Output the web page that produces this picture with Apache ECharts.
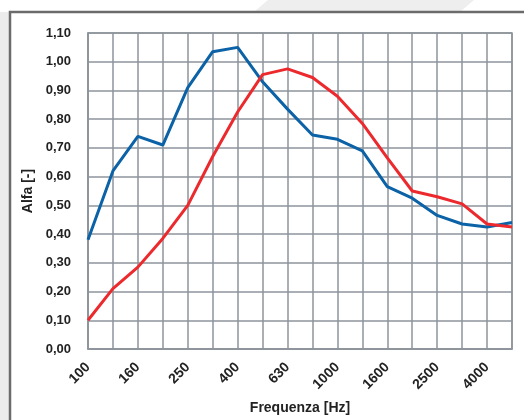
<!DOCTYPE html>
<html>
<head>
<meta charset="utf-8">
<script src="https://cdn.jsdelivr.net/npm/echarts@6/dist/echarts.min.js"></script>
<style>html,body{margin:0;padding:0;background:#fff}#c{width:524px;height:420px}</style>
</head>
<body>
<div id="c"></div>
<script>
var categories = ['100','125','160','200','250','315','400','500','630','800','1000','1250','1600','2000','2500','3150','4000','5000'];
var blueValues = [0.38,0.62,0.74,0.71,0.91,1.035,1.05,0.93,0.835,0.745,0.73,0.69,0.565,0.525,0.465,0.435,0.425,0.44];
var redValues = [0.10,0.21,0.285,0.385,0.50,0.67,0.825,0.955,0.975,0.945,0.88,0.785,0.665,0.55,0.53,0.505,0.435,0.425];
var yTicks = {min:0, max:1.1, step:0.1};

var font = '"Liberation Sans Narrow", "Liberation Sans", Arial, sans-serif';
var gridColor = '#8d949b';
var chart = echarts.init(document.getElementById('c'));
chart.setOption({
  backgroundColor: '#ffffff',
  animation: false,
  graphic: [
    {type:'rect', z:-10, shape:{x:0,y:12,width:10,height:420}, style:{fill:'#ececec'}},
    {type:'polygon', z:-10, shape:{points:[[268,0],[474,0],[461,11],[255,11]]}, style:{fill:'#eeeeee'}},
    {type:'rect', z:-9, shape:{x:10,y:12,width:530,height:420}, style:{fill:'#ffffff', stroke:'#6b6b6b', lineWidth:2.5}}
  ],
  grid: {left:88, right:12, top:33, bottom:70, show:true, borderColor:gridColor, borderWidth:1.5},
  xAxis: {
    type:'category', data:categories, boundaryGap:false,
    name:'Frequenza [Hz]', nameLocation:'middle', nameGap:52,
    nameTextStyle:{fontFamily:font, fontWeight:'bold', fontSize:14, color:'#222'},
    axisLine:{show:true, lineStyle:{color:gridColor, width:1.5}},
    axisTick:{show:false},
    axisLabel:{interval:1, rotate:45, margin:16, fontFamily:font, fontWeight:'bold', fontSize:14, color:'#222'},
    splitLine:{show:true, interval:0, lineStyle:{color:gridColor, width:1.5}}
  },
  yAxis: {
    type:'value', min:yTicks.min, max:yTicks.max, interval:yTicks.step,
    name:'Alfa [-]', nameLocation:'middle', nameGap:50,
    nameTextStyle:{fontFamily:font, fontWeight:'bold', fontSize:14, color:'#222'},
    axisLine:{show:true, lineStyle:{color:gridColor, width:1.5}},
    axisTick:{show:false},
    axisLabel:{margin:17, fontFamily:font, fontWeight:'bold', fontSize:13, color:'#222',
      formatter:function(v){return v.toFixed(2).replace('.',',');}},
    splitLine:{show:true, lineStyle:{color:gridColor, width:1.5}}
  },
  series: [
    {type:'line', data:blueValues, symbol:'none', lineStyle:{color:'#0b62a6', width:3}, z:3},
    {type:'line', data:redValues, symbol:'none', lineStyle:{color:'#ec2a2e', width:3}, z:4}
  ]
});
</script>
</body>
</html>
